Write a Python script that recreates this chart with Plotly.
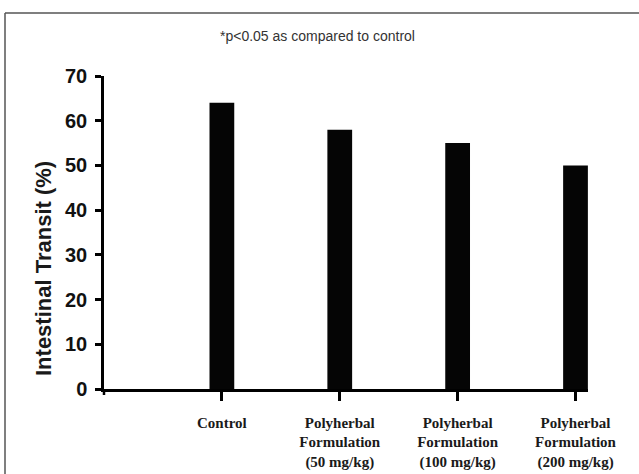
import plotly.graph_objects as go

W, H = 639, 474

categories = ["Control",
              "Polyherbal<br>Formulation<br>(50 mg/kg)",
              "Polyherbal<br>Formulation<br>(100 mg/kg)",
              "Polyherbal<br>Formulation<br>(200 mg/kg)"]
values = [64, 58, 55, 50]
y_ticks = [0, 10, 20, 30, 40, 50, 60, 70]
title_text = "*p<0.05 as compared to control"
y_title = "Intestinal Transit (%)"

x_pos = list(range(len(categories)))

fig = go.Figure()
fig.add_trace(go.Bar(
    x=x_pos, y=values, width=0.21,
    marker=dict(color="#050505", line=dict(width=0)),
    showlegend=False,
))

L, R, T, B = 104, 51, 76, 85

fig.update_layout(
    width=W, height=H,
    margin=dict(l=L, r=R, t=T, b=B, pad=0, autoexpand=False),
    paper_bgcolor="white", plot_bgcolor="white",
    title=dict(text=title_text, xref="container", yref="container",
               x=220 / W, xanchor="left", y=1 - 36 / H, yanchor="middle",
               font=dict(family="Arial, Liberation Sans", size=14, color="#333")),
    xaxis=dict(
        range=[-1, 3.106], tickmode="array", tickvals=x_pos, ticktext=categories,
        showgrid=False, zeroline=False, showline=True, linecolor="black", linewidth=2.5,
        ticks="outside", ticklen=9, tickwidth=2.5, tickcolor="black", automargin=False,
        tickfont=dict(family="Liberation Serif, Times New Roman", size=15, color="#1a1a1a",
                      weight="bold"),
        ticklabelstandoff=9,
    ),
    yaxis=dict(
        range=[0, 70], tickmode="array", tickvals=y_ticks, automargin=False,
        showgrid=False, zeroline=False, showline=True, linecolor="black", linewidth=2.5,
        ticks="outside", ticklen=6, tickwidth=2.5, tickcolor="black",
        tickfont=dict(family="Arial, Liberation Sans", size=20, color="#111", weight="bold"),
        ticklabelstandoff=4,
    ),
    annotations=[dict(
        text=y_title, textangle=-90, xref="paper", yref="paper",
        x=(43 - L) / (W - L - R), y=(H - B - 269) / (H - T - B),
        xanchor="center", yanchor="middle", showarrow=False,
        font=dict(family="Arial, Liberation Sans", size=22, color="#1a1a1a", weight="bold"),
    )],
    shapes=[
        dict(type="line", xref="paper", yref="paper",
             x0=(5 - L) / (W - L - R), x1=(5 - L) / (W - L - R),
             y0=(H - B - 13) / (H - T - B), y1=(H - B - H) / (H - T - B),
             line=dict(color="#555", width=1.5)),
        dict(type="line", xref="paper", yref="paper",
             x0=(5 - L) / (W - L - R), x1=(W - L) / (W - L - R),
             y0=(H - B - 13) / (H - T - B), y1=(H - B - 13) / (H - T - B),
             line=dict(color="#555", width=1.5)),
        dict(type="line", xref="paper", yref="paper",
             x0=0, x1=0, y0=0, y1=-6 / (H - T - B),
             line=dict(color="black", width=2.5)),
    ],
)

fig.write_html("out.html", config={"displayModeBar": False},
               post_script="document.body.style.margin='0';document.body.style.overflow='hidden';")
